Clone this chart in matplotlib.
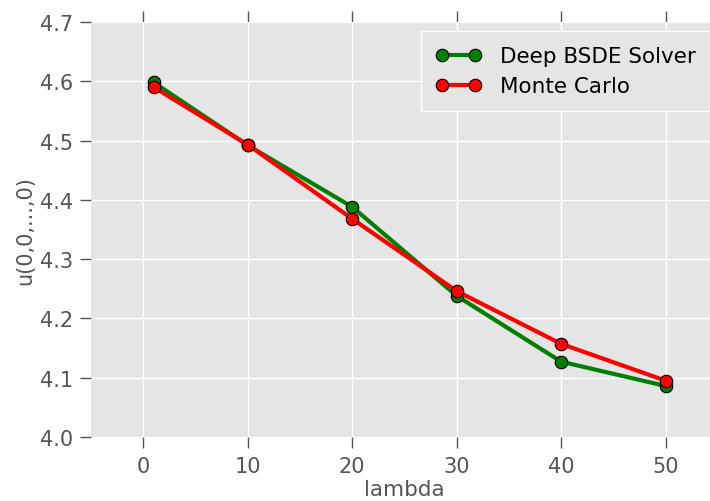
import matplotlib
matplotlib.use("Agg")
import matplotlib.pyplot as plt

# lambda values and u(0,...,0) estimates
lambdas = [1, 10, 20, 30, 40, 50]
bsde_vals = [4.598, 4.492, 4.388, 4.238, 4.127, 4.086]
mc_vals = [4.590, 4.493, 4.368, 4.246, 4.157, 4.095]

plt.style.use('ggplot')
plt.rcParams['font.family'] = 'DejaVu Sans'

fig = plt.figure(figsize=(7.1, 5.02), dpi=100)
# axes run a bit past the right edge of the figure, as in the original
ax = fig.add_axes([91/710, 1 - 438/502, (718 - 91)/710, (438 - 23)/502])
ax.set_facecolor('#E5E5E5')

ax.plot(lambdas, bsde_vals, color='green', lw=3, marker='o', ms=9,
        mfc='green', mec='black', mew=0.8, label='Deep BSDE Solver')
ax.plot(lambdas, mc_vals, color='red', lw=3, marker='o', ms=9,
        mfc='red', mec='black', mew=0.8, label='Monte Carlo')

ax.set_xlim(-5, 55)
ax.set_ylim(4.0, 4.7)
ax.set_xticks([0, 10, 20, 30, 40, 50])
ax.set_yticks([4.0, 4.1, 4.2, 4.3, 4.4, 4.5, 4.6, 4.7])
ax.set_yticklabels(['4.0', '4.1', '4.2', '4.3', '4.4', '4.5', '4.6', '4.7'])

ax.grid(True, color='white', lw=1)
ax.set_axisbelow(True)
for s in ax.spines.values():
    s.set_visible(False)

ax.tick_params(axis='x', which='both', top=True, bottom=True, direction='out',
               length=8, width=1, color='#555555', labelsize=15, labelcolor='#555555', pad=6)
ax.tick_params(axis='y', which='both', left=True, right=False, direction='out',
               length=8, width=1, color='#555555', labelsize=15, labelcolor='#555555', pad=5)

ax.set_xlabel('lambda', fontsize=15.5, color='#555555', labelpad=2)
ax.set_ylabel('u(0,0,...,0)', fontsize=15, color='#555555', labelpad=3)

leg = ax.legend(loc='upper right', bbox_to_anchor=(0.9777, 0.962), fontsize=15.5,
                numpoints=2, frameon=True, handlelength=2.1, borderpad=0.4,
                labelspacing=0.45, handletextpad=0.85, borderaxespad=0)
leg.get_frame().set_facecolor('#E5E5E5')
leg.get_frame().set_edgecolor('white')
leg.get_frame().set_linewidth(1)
leg.get_frame().set_alpha(1)
leg.get_frame().set_boxstyle('square')
for t in leg.get_texts():
    t.set_color('black')

fig.savefig('out.png', dpi=100)
